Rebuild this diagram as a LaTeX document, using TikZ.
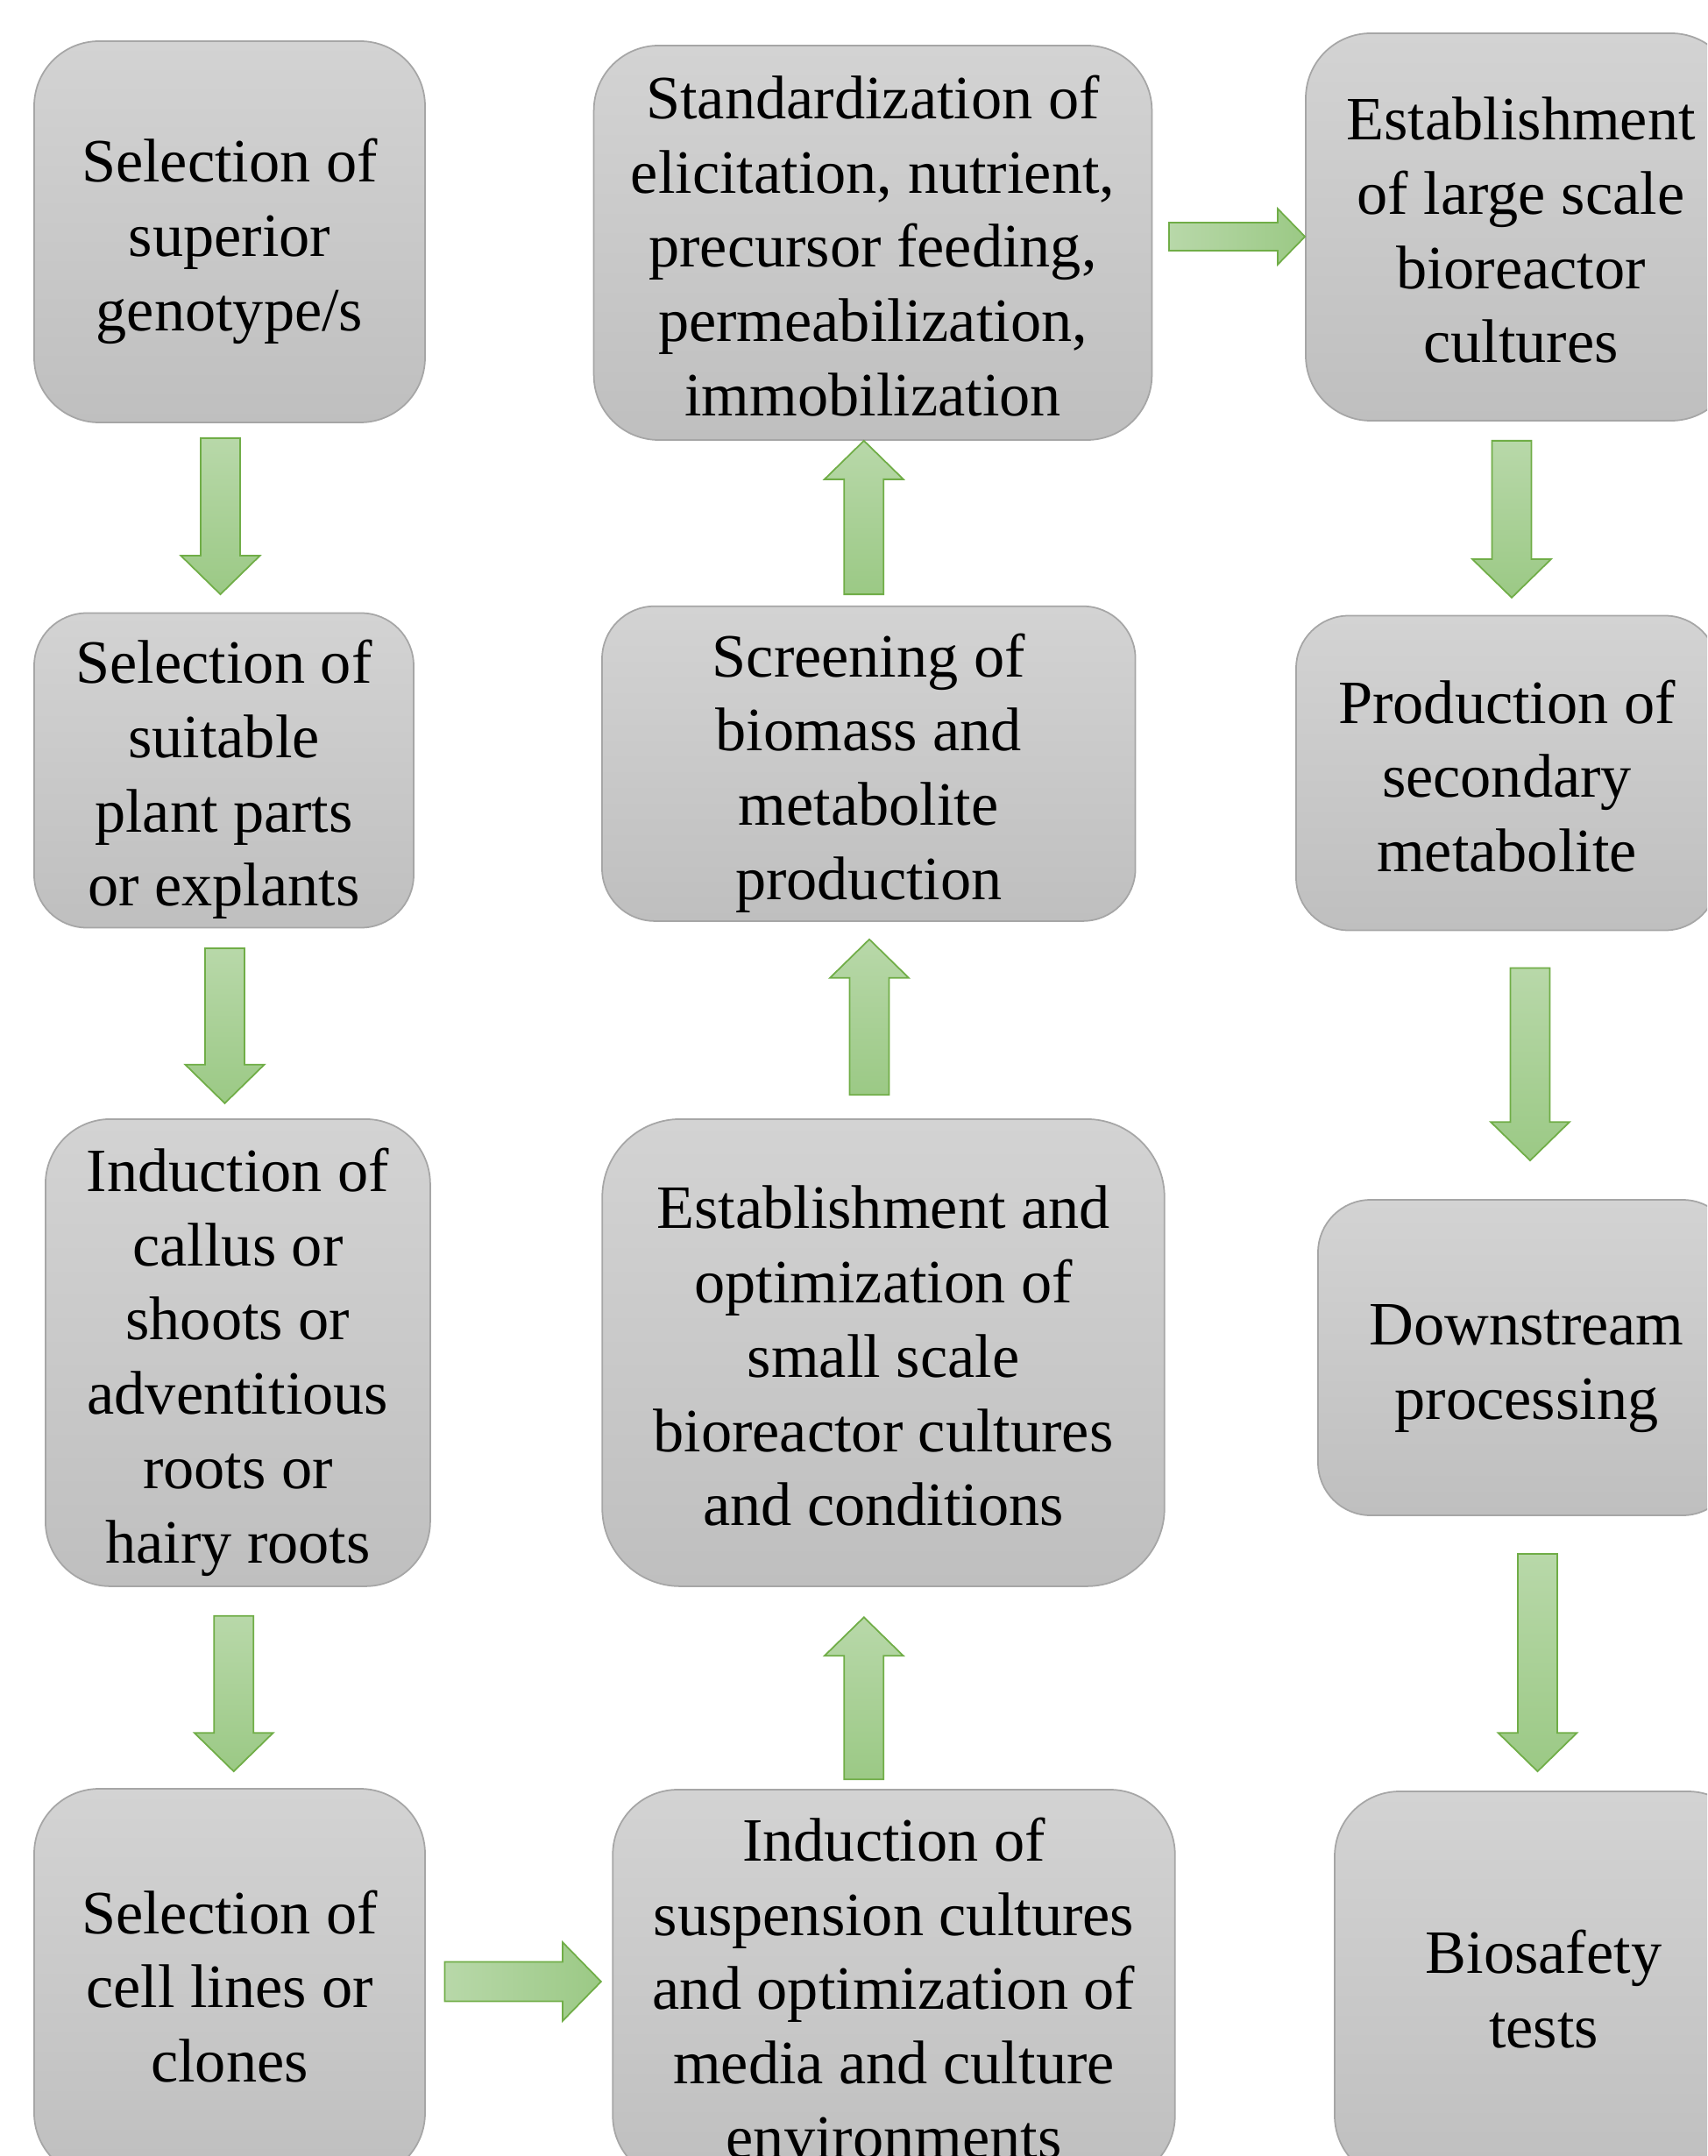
\documentclass[tikz,border=0pt]{standalone}
\usepackage{fontspec}
\setmainfont{Liberation Serif}
\usetikzlibrary{calc}
\definecolor{boxtop}{RGB}{211, 211, 211}
\definecolor{boxbottom}{RGB}{191, 191, 191}
\definecolor{boxline}{RGB}{166, 166, 166}
\definecolor{arrowlight}{RGB}{184, 216, 169}
\definecolor{arrowdark}{RGB}{155, 201, 133}
\definecolor{arrowline}{RGB}{112, 173, 71}

\def\aw{1}
\newcommand{\ls}{\rule[-4.3pt]{0pt}{24.5pt}}
\tikzset{
  stage/.style={draw=boxline, line width=0.5pt, top color=boxtop, bottom color=boxbottom,
    rounded corners=0.74cm, align=center, inner sep=0pt, text=black,
    font=\fontsize{20}{24.1}\selectfont, execute at end node=\ls},
  flowarrow/.style={draw=arrowline, line width=0.5pt, top color=arrowlight, bottom color=arrowdark},
  sideways/.style={left color=arrowlight, right color=arrowdark},
  narrow/.code={\def\aw{0.71}}
}

% block arrow from #2 to #3 (tip at #3)
\newcommand{\flow}[3][]{%
  \path[flowarrow,#1] let \p1=#2, \p2=#3,
      \n1={atan2(\y2-\y1,\x2-\x1)}, \n2={veclen(\x2-\x1,\y2-\y1)} in
    ($(\p1)+(\n1+90:\aw*0.225cm)$)
    -- ($(\p2)+(\n1+180:\aw*0.44cm)+(\n1+90:\aw*0.225cm)$)
    -- ($(\p2)+(\n1+180:\aw*0.44cm)+(\n1+90:\aw*0.45cm)$)
    -- (\p2)
    -- ($(\p2)+(\n1+180:\aw*0.44cm)+(\n1-90:\aw*0.45cm)$)
    -- ($(\p2)+(\n1+180:\aw*0.44cm)+(\n1-90:\aw*0.225cm)$)
    -- ($(\p1)+(\n1-90:\aw*0.225cm)$) -- cycle;}

\begin{document}
\begin{tikzpicture}
  \useasboundingbox (0,0) rectangle (19.48,-24.6);
  \clip (0,0) rectangle (19.48,-24.6);

  % Left column
  \node[stage, minimum width=4.46cm, minimum height=4.35cm] (genotype) at (2.62,-2.645)
    {\ls Selection of\\superior\\genotype/s};
  \node[stage, rounded corners=0.6cm, minimum width=4.33cm, minimum height=3.59cm] (explant) at (2.555,-8.79)
    {\ls Selection of\\suitable\\plant parts\\or explants};
  \node[stage, minimum width=4.39cm, minimum height=5.33cm] (callus) at (2.714,-15.434)
    {\ls Induction of\\callus or\\shoots or\\adventitious\\roots or\\hairy roots};
  \node[stage, minimum width=4.46cm, minimum height=4.44cm] (clones) at (2.62,-22.63)
    {\ls Selection of\\cell lines or\\clones};

  % Middle column
  \node[stage, minimum width=6.415cm, minimum height=4.46cm] (suspension) at (10.2,-22.65)
    {\ls Induction of\\suspension cultures\\and optimization of\\media and culture\\environments};
  \node[stage, rounded corners=0.89cm, minimum width=6.415cm, minimum height=5.33cm] (smallscale) at (10.08,-15.434)
    {\ls Establishment and\\optimization of\\small scale\\bioreactor cultures\\and conditions};
  \node[stage, rounded corners=0.6cm, minimum width=6.086cm, minimum height=3.592cm] (screening) at (9.913,-8.713)
    {\ls Screening of\\biomass and\\metabolite\\production};
  \node[stage, minimum width=6.368cm, minimum height=4.5cm] (standard) at (9.96,-2.77)
    {\ls Standardization of\\elicitation, nutrient,\\precursor feeding,\\permeabilization,\\immobilization};

  % Right column
  \node[stage, minimum width=4.91cm, minimum height=4.42cm] (largescale) at (17.355,-2.59)
    {\ls Establishment\\of large scale\\bioreactor\\cultures};
  \node[stage, rounded corners=0.6cm, minimum width=4.81cm, minimum height=3.59cm] (metabolite) at (17.195,-8.82)
    {\ls Production of\\secondary\\metabolite};
  \node[stage, rounded corners=0.6cm, minimum width=4.76cm, minimum height=3.6cm] (downstream) at (17.42,-15.49)
    {\ls Downstream\\processing};
  \node[stage, minimum width=4.77cm, minimum height=4.44cm] (biosafety) at (17.615,-22.66)
    {\ls Biosafety\\tests};

  % Arrows
  \flow{($(genotype.south)+(-0.105,-0.17)$)}{($(explant.north)+(-0.04,0.205)$)}
  \flow{($(explant.south)+(0.01,-0.225)$)}{($(callus.north)+(-0.149,0.172)$)}
  \flow{($(callus.south)+(-0.047,-0.33)$)}{($(clones.north)+(0.047,0.19)$)}
  \flow[sideways]{($(clones.east)+(0.216,0.02)$)}{($(suspension.west)+(-0.125,0.04)$)}
  \flow{($(suspension.north)+(-0.342,0.11)$)}{($(smallscale.south)+(-0.222,-0.345)$)}
  \flow{($(smallscale.north)+(-0.16,0.267)$)}{($(screening.south)+(0.007,-0.2)$)}
  \flow{($(screening.north)+(-0.055,0.127)$)}{($(standard.south)+(-0.102,0)$)}
  \flow[sideways, narrow]{($(standard.east)+(0.186,0.07)$)}{($(largescale.west)+(0,-0.11)$)}
  \flow{($(largescale.south)+(-0.105,-0.22)$)}{($(metabolite.north)+(0.055,0.197)$)}
  \flow{($(metabolite.south)+(0.265,-0.42)$)}{($(downstream.north)+(0.04,0.44)$)}
  \flow{($(downstream.south)+(0.125,-0.43)$)}{($(biosafety.north)+(-0.07,0.22)$)}
\end{tikzpicture}
\end{document}
